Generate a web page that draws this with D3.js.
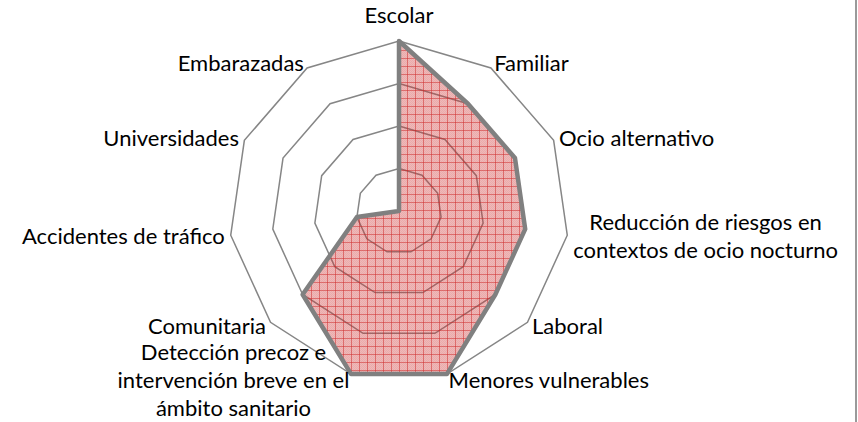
<!DOCTYPE html>
<html><head><meta charset="utf-8">
<script src="https://cdn.jsdelivr.net/npm/d3@7"></script>
<style>html,body{margin:0;padding:0;background:#fff;overflow:hidden}</style>
</head><body><svg id="chart" width="858" height="422"></svg>
<script>
// ---- data ----
const categories = [
  "Escolar",
  "Familiar",
  "Ocio alternativo",
  "Reducción de riesgos en\ncontextos de ocio nocturno",
  "Laboral",
  "Menores vulnerables",
  "Detección precoz e\nintervención breve en el\námbito sanitario",
  "Comunitaria",
  "Accidentes de tráfico",
  "Universidades",
  "Embarazadas"
];
const values = [4, 3, 3, 3, 3, 4, 4, 3, 1, 0, 0];
const ringTicks = [1, 2, 3, 4];

// ---- layout ----
const W = 858, H = 422, cx = 399, cy = 211, R = 170;
const n = categories.length;
const svg = d3.select("#chart");
const angle = d3.scaleLinear().domain([0, n]).range([0, 2 * Math.PI]);
const r = d3.scaleLinear().domain([0, d3.max(ringTicks)]).range([0, R]);
const radial = d3.lineRadial()
  .angle((d, i) => angle(i))
  .radius(d => r(d))
  .curve(d3.curveLinearClosed);

// pattern fill
const defs = svg.append("defs");
const pat = defs.append("pattern").attr("id", "grid")
  .attr("patternUnits", "userSpaceOnUse").attr("width", 8).attr("height", 8);
pat.append("rect").attr("width", 8).attr("height", 8).attr("fill", "rgba(205,50,50,0.34)");
for (let i = 0; i < 8; i++) for (let j = 0; j < 8; j++) {
  if ((i + j) % 2 === 0) pat.append("rect").attr("x", i).attr("y", j)
    .attr("width", 1).attr("height", 1).attr("fill", "rgba(205,50,50,0.10)");
}
pat.append("rect").attr("x", 0).attr("y", 7).attr("width", 8).attr("height", 1).attr("fill", "rgba(205,40,40,0.5)");
pat.append("rect").attr("x", 0).attr("y", 0).attr("width", 1).attr("height", 8).attr("fill", "rgba(205,40,40,0.5)");

const g = svg.append("g").attr("transform", `translate(${cx},${cy})`);

// rings
g.selectAll("path.ring").data(ringTicks).join("path")
  .attr("class", "ring")
  .attr("d", t => radial(Array(n).fill(t)))
  .attr("fill", "none")
  .attr("stroke", "#868686")
  .attr("stroke-width", 1.5);

// series
g.append("path")
  .attr("d", radial(values))
  .attr("fill", "url(#grid)")
  .attr("stroke", "#808080")
  .attr("stroke-width", 4.5)
  .attr("stroke-linejoin", "round");

// labels
const fontSize = 22, lineH = 28, off = 6;
categories.forEach((name, i) => {
  const a = angle(i);
  const dx = Math.sin(a), dy = -Math.cos(a);
  const px = (R + off) * dx, py = (R + off) * dy;
  const lines = name.split("\n");
  const t = g.append("text")
    .attr("font-family", "Lato, 'Open Sans', sans-serif")
    .attr("font-size", fontSize)
    .attr("fill", "#000")
    .attr("text-anchor", "middle");
  lines.forEach((ln, k) => t.append("tspan").attr("x", 0).attr("dy", k === 0 ? 0 : lineH).text(ln));
  const w = d3.max(t.selectAll("tspan").nodes(), nd => nd.getComputedTextLength());
  const h = lines.length * lineH;
  let x;
  if (dx > 0.1) x = px + w / 2;
  else if (dx < -0.1) x = px - w / 2;
  else x = px;
  let yc = Math.abs(dx) < 0.1 ? py + dy * (h / 2 + 6) : py;
  const y0 = yc - (lines.length - 1) * lineH / 2 + fontSize * 0.35;
  t.attr("transform", `translate(${x},${y0})`);
});

// right border of chart area
svg.append("line").attr("x1", 856).attr("x2", 856).attr("y1", 0).attr("y2", H)
  .attr("stroke", "#9a9a9a").attr("stroke-width", 2);
</script></body></html>
